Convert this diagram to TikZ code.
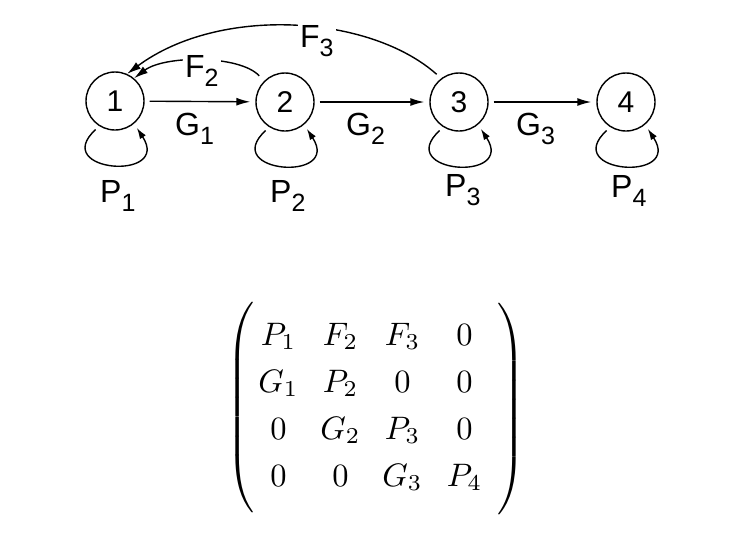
\documentclass[tikz,border=0pt]{standalone}
\usepackage{fontspec}
\newfontfamily\diagfont{Liberation Sans}
\usetikzlibrary{arrows.meta,matrix}
\newcommand\lbl[2]{#1\raisebox{-9pt}{\fontsize{25}{25}\selectfont #2}}
\newcommand\mx[1]{\scalebox{3.25}{$#1$}}
\newcommand\bigparen[1]{\scalebox{3.2}{$\left#1\vcenter{\hrule height 66pt width 0pt}\right.$}}
\begin{document}
\begin{tikzpicture}[x=1pt,y=-1pt,
  state/.style={draw, circle, line width=1.4pt, minimum size=58pt, inner sep=0pt,
    font=\diagfont\fontsize{30}{30}\selectfont},
  edgelbl/.style={anchor=base west, inner sep=0pt, font=\diagfont\fontsize{32}{32}\selectfont},
  gaplbl/.style={edgelbl, fill=white, inner sep=2pt},
  conn/.style={line width=1.4pt, -{Latex[length=14pt,width=8pt]}},
  selfloop/.style={line width=1.4pt, -{Latex[length=11pt,width=7pt]}, shorten <=5pt, shorten >=5pt},
  cellnode/.style={minimum width=62pt, inner sep=0pt, text height=30pt, text depth=17pt, anchor=center},
  delim/.style={inner sep=0pt, anchor=center}]
\useasboundingbox (0,0) rectangle (732,533);
\fill[white] (0,0) rectangle (732,533);

\node[state] (n1) at (115,101) {1};
\node[state] (n2) at (285,102) {2};
\node[state] (n3) at (459,102) {3};
\node[state] (n4) at (626,102) {4};

\draw[conn, shorten <=5pt, shorten >=5pt] (n1) -- (n2);
\draw[conn, shorten <=5pt, shorten >=5pt] (n2) -- (n3);
\draw[conn, shorten <=5pt, shorten >=5pt] (n3) -- (n4);

\draw[conn, shorten <=7pt] (n2.135) .. controls (240,55) and (165,55) .. (n1.50);
\draw[conn, shorten <=6pt] (n3.127) .. controls (370,15) and (220,5) .. (n1.66);

\foreach \i in {1,2,3,4}{
  \draw[selfloop] (n\i.238) .. controls +(-50,46) and +(38,58) .. (n\i.310);
}

\node[edgelbl] (g1) at (175,135) {\lbl{G}{1}};
\node[edgelbl] (g2) at (346,135) {\lbl{G}{2}};
\node[edgelbl] (g3) at (516,135) {\lbl{G}{3}};
\node[gaplbl] (f2) at (183,77) {\lbl{F}{2}};
\node[gaplbl] (f3) at (298,47) {\lbl{F}{3}};
\node[edgelbl] (p1) at (100,202) {\lbl{P}{1}};
\node[edgelbl] (p2) at (270,202) {\lbl{P}{2}};
\node[edgelbl] (p3) at (445,196) {\lbl{P}{3}};
\node[edgelbl] (p4) at (611,197) {\lbl{P}{4}};

\matrix (M) at (371.5,409) [matrix of nodes, inner sep=0pt, column sep=0pt, row sep=0pt,
  nodes={cellnode}]
{
  \mx{P_1} & \mx{F_2} & \mx{F_3} & \mx{0} \\
  \mx{G_1} & \mx{P_2} & \mx{0} & \mx{0} \\
  \mx{0} & \mx{G_2} & \mx{P_3} & \mx{0} \\
  \mx{0} & \mx{0} & \mx{G_3} & \mx{P_4} \\
};
\node[delim] (lp) at (242,407.5) {\bigparen(};
\node[delim] (rp) at (513,409) {\bigparen)};
\end{tikzpicture}
\end{document}
